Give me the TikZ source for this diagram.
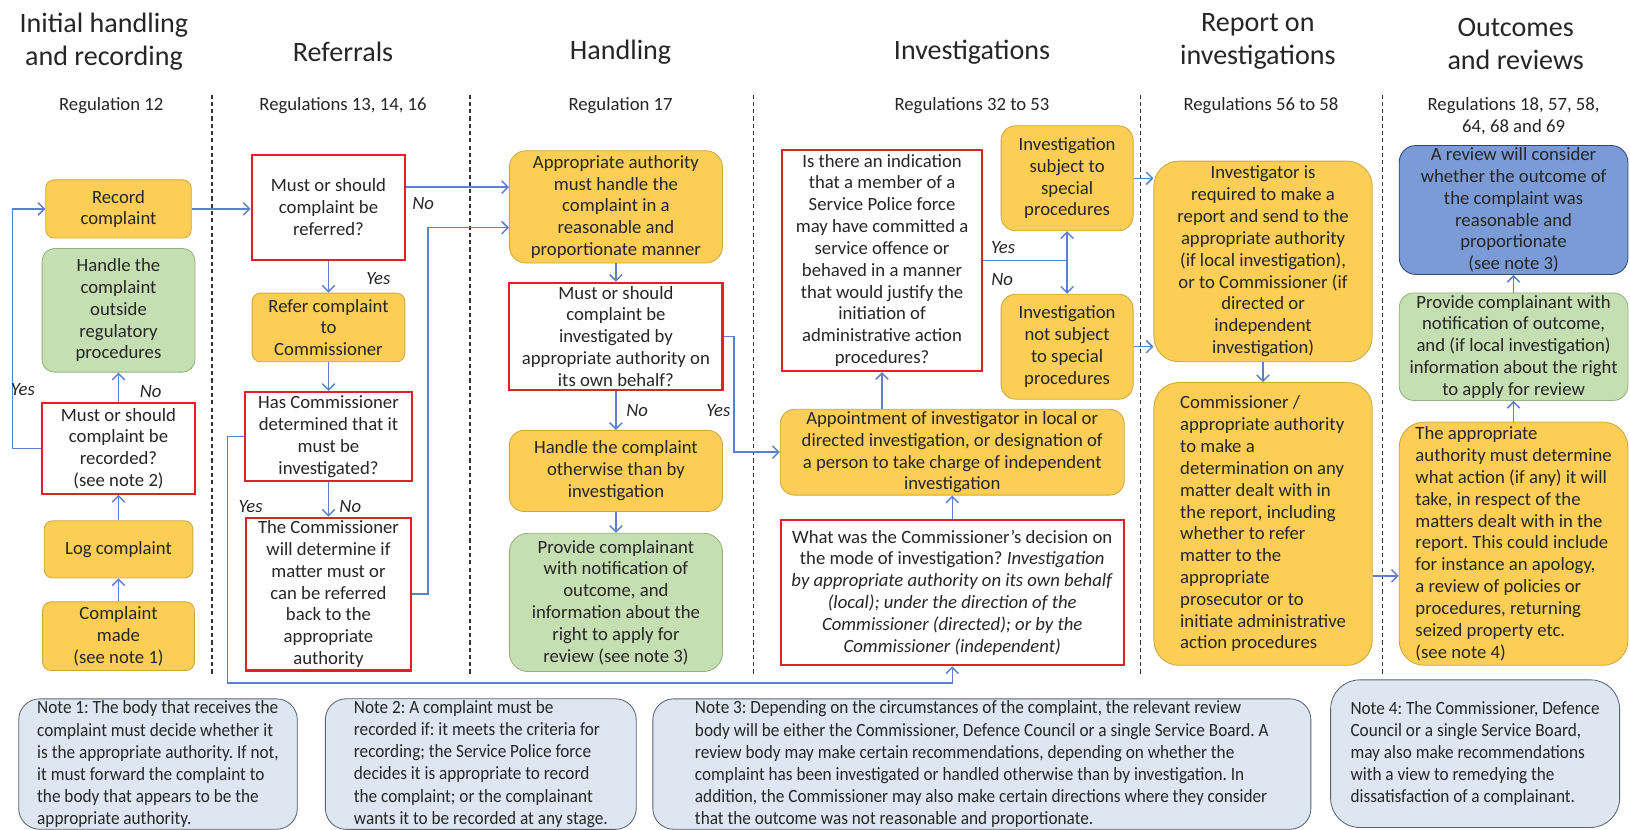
\documentclass[tikz,border=0pt]{standalone}
\usepackage{fontspec}
\setmainfont{Carlito}
\newfontfamily\notefont[FakeStretch=0.92]{Carlito}
\usepackage{tikz}
\usetikzlibrary{arrows.meta}
\frenchspacing
\definecolor{FlowYellow}{RGB}{252,206,86}
\definecolor{FlowYellowLine}{RGB}{205,168,62}
\definecolor{FlowGreen}{RGB}{198,223,178}
\definecolor{FlowGreenLine}{RGB}{148,178,126}
\definecolor{FlowRed}{RGB}{228,30,42}
\definecolor{FlowBlueBox}{RGB}{122,155,213}
\definecolor{FlowBlueBoxLine}{RGB}{48,68,118}
\definecolor{NoteFill}{RGB}{222,230,242}
\definecolor{NoteLine}{RGB}{88,98,116}
\definecolor{FlowArrow}{RGB}{92,128,204}
\definecolor{FlowText}{RGB}{38,38,38}

\begin{document}
\begin{tikzpicture}[x=0.5pt, y=-0.5pt,
    yellowbox/.style={rounded corners=4pt, draw=FlowYellowLine, fill=FlowYellow, align=center, inner sep=1pt, text=FlowText, font=\fontsize{9}{10.5}\selectfont},
    greenbox/.style={rounded corners=6pt, draw=FlowGreenLine, fill=FlowGreen, align=center, inner sep=1pt, text=FlowText, font=\fontsize{9}{10.5}\selectfont},
    redbox/.style={draw=FlowRed, line width=1pt, fill=white, align=center, inner sep=1pt, text=FlowText, font=\fontsize{9}{10.5}\selectfont},
    bluebox/.style={rounded corners=8pt, draw=FlowBlueBoxLine, fill=FlowBlueBox, align=center, inner sep=1pt, text=FlowText, font=\fontsize{9}{10.5}\selectfont},
    notebox/.style={rounded corners=10pt, draw=NoteLine, fill=NoteFill, align=left, inner sep=1pt, text=FlowText, font=\notefont\fontsize{9}{10.6}\selectfont},
    heading/.style={align=center, text=FlowText, font=\fontsize{13.5}{16}\selectfont},
    regs/.style={align=center, text=FlowText, font=\fontsize{9}{10.5}\selectfont},
    lbl/.style={text=FlowText, font=\fontsize{9}{10}\selectfont\itshape},
    divider/.style={draw=black!80, line width=0.6pt, dash pattern=on 2pt off 1.5pt},
    arrow/.style={-{Straight Barb[length=3pt,width=6pt]}, line width=0.7pt, draw=FlowArrow},
    link/.style={line width=0.7pt, draw=FlowArrow}
  ]
    \useasboundingbox[fill=white] (0,0) rectangle (1568,798);

    \node[heading] (h1) at (100,40) {Initial handling\\and recording};
    \node[heading] (h2) at (330,50) {Referrals};
    \node[heading] (h3) at (597,50) {Handling};
    \node[heading] (h4) at (935,50) {Investigations};
    \node[heading] (h5) at (1210,40) {Report on\\investigations};
    \node[heading] (h6) at (1458,42) {Outcomes\\and reviews};

    \node[regs] (r1) at (107,102) {Regulation 12};
    \node[regs] (r2) at (330,102) {Regulations 13, 14, 16};
    \node[regs] (r3) at (597,102) {Regulation 17};
    \node[regs] (r4) at (935,102) {Regulations 32 to 53};
    \node[regs] (r5) at (1213,102) {Regulations 56 to 58};
    \node[regs] (r6) at (1456,112) {Regulations 18, 57, 58,\\64, 68 and 69};

    \foreach \x in {204,452,725,1097,1330} {\draw[divider] (\x,91) -- (\x,650);}

    \node[yellowbox, minimum width=70pt, minimum height=28pt] (rec) at (114,201) {Record\\complaint};
    \node[greenbox, minimum width=73.5pt, minimum height=59.5pt] (outside) at (114,298.5) {Handle the\\complaint\\outside\\regulatory\\procedures};
    \node[redbox, minimum width=74pt, minimum height=43.5pt] (recq) at (114,431.5) {Must or should\\complaint be\\recorded?\\(see note 2)};
    \node[yellowbox, minimum width=71.5pt, minimum height=27.5pt] (log) at (114,528.5) {Log complaint};
    \node[yellowbox, minimum width=73pt, minimum height=33pt] (made) at (114,612) {Complaint\\made\\(see note 1)};

    \node[redbox, minimum width=74pt, minimum height=50.5pt] (refq) at (316,199.5) {Must or should\\complaint be\\referred?};
    \node[yellowbox, minimum width=73.5pt, minimum height=33pt] (refer) at (316,315) {Refer complaint\\to\\Commissioner};
    \node[redbox, minimum width=80pt, minimum height=43pt] (detq) at (316,420) {Has Commissioner\\determined that it\\must be\\investigated?};
    \node[redbox, minimum width=79.5pt, minimum height=73.5pt] (backq) at (316,571.5) {The Commissioner\\will determine if\\matter must or\\can be referred\\back to the\\appropriate\\authority};

    \node[yellowbox, rounded corners=8pt, minimum width=102.5pt, minimum height=54pt] (hand) at (592.5,199) {Appropriate authority\\must handle the\\complaint in a\\reasonable and\\proportionate manner};
    \node[redbox, minimum width=102.5pt, minimum height=51.5pt] (invq) at (592.5,323.5) {Must or should\\complaint be\\investigated by\\appropriate authority on\\its own behalf?};
    \node[yellowbox, rounded corners=7pt, minimum width=102.5pt, minimum height=39pt] (other) at (592.5,453) {Handle the complaint\\otherwise than by\\investigation};
    \node[greenbox, rounded corners=9pt, minimum width=102.5pt, minimum height=66.5pt] (provide) at (592.5,579.5) {Provide complainant\\with notification of\\outcome, and\\information about the\\right to apply for\\review (see note 3)};

    \node[redbox, minimum width=96.5pt, minimum height=106.5pt] (indq) at (848.5,250.5) {Is there an indication\\that a member of a\\Service Police force\\may have committed a\\service offence or\\behaved in a manner\\that would justify the\\initiation of\\administrative action\\procedures?};
    \node[yellowbox, rounded corners=7pt, minimum width=63.5pt, minimum height=50.5pt] (subj) at (1026.5,171.5) {Investigation\\subject to\\special\\procedures};
    \node[yellowbox, rounded corners=7pt, minimum width=63.5pt, minimum height=50.5pt] (notsubj) at (1026.5,333.5) {Investigation\\not subject\\to special\\procedures};
    \node[yellowbox, rounded corners=7pt, minimum width=165.5pt, minimum height=41pt] (appoint) at (916,435) {Appointment of investigator in local or\\directed investigation, or designation of\\a person to take charge of independent\\investigation};
    \node[redbox, minimum width=165pt, minimum height=70pt] (modeq) at (916,570) {What was the Commissioner’s decision on\\the mode of investigation? \textit{Investigation}\\\textit{by appropriate authority on its own behalf}\\\textit{(local); under the direction of the}\\\textit{Commissioner (directed); or by the}\\\textit{Commissioner (independent)}};

    \node[yellowbox, rounded corners=12pt, minimum width=105pt, minimum height=96.5pt] (report1) at (1215,251.5) {Investigator is\\required to make a\\report and send to the\\appropriate authority\\(if local investigation),\\or to Commissioner (if\\directed or\\independent\\investigation)};
    \node[yellowbox, rounded corners=12pt, align=left, minimum width=105pt, minimum height=136pt] (report2) at (1215,504) {Commissioner /\\appropriate authority\\to make a\\determination on any\\matter dealt with in\\the report, including\\whether to refer\\matter to the\\appropriate\\prosecutor or to\\initiate administrative\\action procedures};

    \node[bluebox, minimum width=110pt, minimum height=62pt] (review) at (1456,202) {A review will consider\\whether the outcome of\\the complaint was\\reasonable and\\proportionate\\(see note 3)};
    \node[greenbox, rounded corners=7pt, minimum width=110pt, minimum height=51.5pt] (notify) at (1456,333.5) {Provide complainant with\\notification of outcome,\\and (if local investigation)\\information about the right\\to apply for review};
    \node[yellowbox, rounded corners=12pt, align=left, minimum width=110pt, minimum height=117pt] (action) at (1456,523) {The appropriate\\authority must determine\\what action (if any) it will\\take, in respect of the\\matters dealt with in the\\report. This could include\\for instance an apology,\\a review of policies or\\procedures, returning\\seized property etc.\\(see note 4)};

    \node[notebox, minimum width=134pt, minimum height=61pt] (note1) at (152,735) {Note 1: The body that receives the\\complaint must decide whether it\\is the appropriate authority. If not,\\it must forward the complaint to\\the body that appears to be the\\appropriate authority.};
    \node[notebox, minimum width=149.5pt, minimum height=61pt] (note2) at (462.5,735) {Note 2: A complaint must be\\recorded if: it meets the criteria for\\recording; the Service Police force\\decides it is appropriate to record\\the complaint; or the complainant\\wants it to be recorded at any stage.};
    \node[notebox, minimum width=316.5pt, minimum height=61pt] (note3) at (944.5,735) {Note 3: Depending on the circumstances of the complaint, the relevant review\\body will be either the Commissioner, Defence Council or a single Service Board. A\\review body may make certain recommendations, depending on whether the\\complaint has been investigated or handled otherwise than by investigation. In\\addition, the Commissioner may also make certain directions where they consider\\that the outcome was not reasonable and proportionate.};
    \node[notebox, rounded corners=14pt, minimum width=139pt, minimum height=71pt] (note4) at (1419,725) {Note 4: The Commissioner, Defence\\Council or a single Service Board,\\may also make recommendations\\with a view to remedying the\\dissatisfaction of a complainant.};

    \coordinate (loopL) at (12,0);
    \coordinate (loopB) at (0,657);
    \coordinate (split) at (indq.east -| subj.south);

    \foreach \a/\b in {made/log,log/recq,recq/outside,refq/refer,refer/detq,detq/backq,hand/invq,invq/other,other/provide,report1/report2,action/notify,notify/review,modeq/appoint} {\draw[arrow] (\a) -- (\b);}

    \draw[arrow] (recq.west) -- (recq.west -| loopL) |- (rec.west);
    \draw[arrow] (rec.east) -- (rec.east -| refq.west);
    \draw[arrow] ([yshift=9.75pt]refq.east) -- ([yshift=9.75pt]refq.east -| hand.west);
    \draw[arrow] (backq.east) -- ++(15,0) |- ([yshift=-10pt]hand.west);
    \draw[arrow] (detq.west) -- ++(-16,0) |- (loopB -| modeq.south) -- (modeq.south);
    \draw[arrow] (invq.east) -- ++(10,0) |- (appoint.west);
    \draw[arrow] (indq.south |- appoint.north) -- (indq.south);
    \draw[link] (indq.east) -- (split);
    \draw[arrow] (split) -- (subj.south);
    \draw[arrow] (split) -- (notsubj.north);
    \draw[arrow] (subj.east) -- (subj.east -| report1.west);
    \draw[arrow] (notsubj.east) -- (notsubj.east -| report1.west);
    \draw[arrow] ([yshift=-25pt]report2.east) -- ([yshift=-25pt]report2.east -| action.west);

    \node[lbl] (yes1) at (22,375) {Yes};
    \node[lbl] (no1) at (145,377) {No};
    \node[lbl] (no2) at (407,196) {No};
    \node[lbl] (yes2) at (364,268) {Yes};
    \node[lbl] (yes3) at (241,487) {Yes};
    \node[lbl] (no3) at (337,487) {No};
    \node[lbl] (no4) at (613,395) {No};
    \node[lbl] (yes4) at (691,395) {Yes};
    \node[lbl] (yes5) at (965,238) {Yes};
    \node[lbl] (no5) at (964,269) {No};
  \end{tikzpicture}
\end{document}
